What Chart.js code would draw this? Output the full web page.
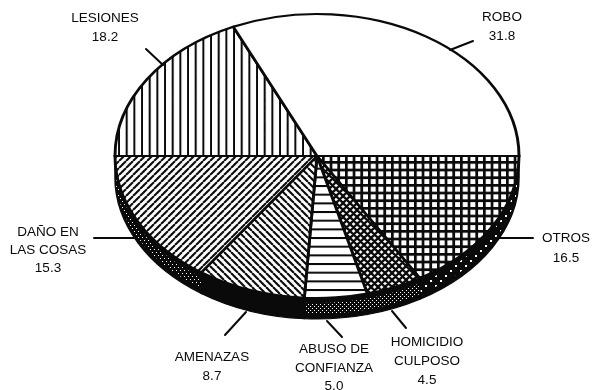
<!DOCTYPE html>
<html>
<head>
<meta charset="utf-8">
<style>html,body{margin:0;padding:0;background:#fff}#w{position:relative;width:593px;height:390px}</style>
<script src="https://cdn.jsdelivr.net/npm/chart.js@4"></script>
</head>
<body>
<div id="w"><canvas id="c" width="593" height="390"></canvas></div>
<script>
const categories = [['OTROS'], ['HOMICIDIO', 'CULPOSO'], ['ABUSO DE', 'CONFIANZA'], ['AMENAZAS'], ['DAÑO EN', 'LAS COSAS'], ['LESIONES'], ['ROBO']];
const values = [16.5, 4.5, 5.0, 8.7, 15.3, 18.2, 31.8];
const valueLabels = ['16.5', '4.5', '5.0', '8.7', '15.3', '18.2', '31.8'];

const INK = '#0a0a0a';
const CX = 317, CY = 156, RX = 202, RY = 142, DEPTH = 21;

function tile(w, h, paint) {
  const t = document.createElement('canvas');
  t.width = w; t.height = h;
  const g = t.getContext('2d');
  g.fillStyle = '#fff'; g.fillRect(0, 0, w, h);
  g.strokeStyle = INK; g.fillStyle = INK;
  paint(g, w, h);
  return g.createPattern(t, 'repeat');
}
function diag(up, w, lw) {
  return tile(w, w, g => {
    g.lineWidth = lw;
    g.beginPath();
    for (const o of [-w, 0, w]) {
      if (up) { g.moveTo(o, w); g.lineTo(o + w, 0); }
      else { g.moveTo(o, 0); g.lineTo(o + w, w); }
    }
    g.stroke();
  });
}
function dots(w, h, size) {
  const t = document.createElement('canvas');
  t.width = w; t.height = h;
  const g = t.getContext('2d');
  g.fillStyle = INK; g.fillRect(0, 0, w, h);
  g.fillStyle = '#fff';
  g.fillRect(0, 0, size, size);
  g.fillRect(w / 2, h / 2, size, size);
  return g.createPattern(t, 'repeat');
}
const topPatterns = [
  tile(23, 23, g => { for (let k = 0; k < 3; k++) { const p = k * 23 / 3; g.fillRect(0, p, 23, 2.7); g.fillRect(p, 0, 2.7, 23); } }),
  tile(7, 7, g => {
    g.lineWidth = 2.3;
    g.beginPath();
    for (const o of [-7, 0, 7]) { g.moveTo(o, 7); g.lineTo(o + 7, 0); g.moveTo(o, 0); g.lineTo(o + 7, 7); }
    g.stroke();
  }),
  tile(26, 26, g => { for (let k = 0; k < 3; k++) g.fillRect(0, k * 26 / 3 + 3, 26, 2); }),
  diag(false, 7, 2.1),
  diag(true, 7, 2.1),
  tile(23, 23, g => { for (let k = 0; k < 3; k++) g.fillRect(k * 23 / 3 + 3, 0, 2, 23); }),
  '#ffffff'
];
const sidePatterns = [
  dots(10, 10, 2),
  dots(4, 4, 1),
  dots(4, 4, 1),
  null,
  dots(4, 6, 1),
  null,
  null
];
const placement = [
  { tx: 566, ty: [238, 258], lead: [533, 238, 497, 238] },
  { tx: 427, ty: [342, 361, 380], lead: [406, 328, 392, 311] },
  { tx: 334, ty: [349, 368, 386], lead: [342, 337, 327, 321] },
  { tx: 212, ty: [357, 376], lead: [225, 335, 246, 312] },
  { tx: 48, ty: [232, 250, 268], lead: [94, 238, 135, 238] },
  { tx: 105, ty: [18, 37], lead: [146, 49, 163, 65] },
  { tx: 502, ty: [17, 36], lead: [473, 41, 450, 50] }
];

const squash = {
  id: 'squash',
  beforeDatasetsDraw(chart) {
    const ctx = chart.ctx;
    const arcs = chart.getDatasetMeta(0).data;
    const a0 = arcs[0];
    const R = a0.outerRadius;
    const sx = RX / R, sy = RY / R;
    ctx.save();
    ctx.translate(CX, CY);
    ctx.scale(sx, sy);
    ctx.translate(-a0.x, -a0.y);
    const inv = ctx.getTransform().inverse();
    topPatterns.concat(sidePatterns).forEach(p => { if (p instanceof CanvasPattern) p.setTransform(inv); });
    const wall = (a, s, e, d0, d1) => {
      ctx.beginPath();
      ctx.arc(a.x, a.y + d0 / sy, R, s, e);
      ctx.arc(a.x, a.y + d1 / sy, R, e, s, true);
      ctx.closePath();
    };
    arcs.forEach((a, i) => {
      const s = Math.max(a.startAngle, 0), e = Math.min(a.endAngle, Math.PI);
      if (e <= s) return;
      wall(a, s, e, 0, DEPTH);
      ctx.fillStyle = INK;
      ctx.fill();
      ctx.lineWidth = 1.5;
      ctx.strokeStyle = INK;
      ctx.stroke();
      if (sidePatterns[i]) {
        wall(a, s, e, 5, DEPTH - 5);
        ctx.fillStyle = sidePatterns[i];
        ctx.fill();
      }
    });
  },
  afterDatasetsDraw(chart) {
    const ctx = chart.ctx;
    ctx.restore();
    ctx.save();
    ctx.strokeStyle = INK;
    ctx.fillStyle = INK;
    ctx.lineWidth = 2;
    ctx.lineCap = 'round';
    ctx.font = '13.5px "Liberation Sans", Arial, sans-serif';
    ctx.textAlign = 'center';
    ctx.textBaseline = 'middle';
    placement.forEach((p, i) => {
      const l = p.lead;
      ctx.beginPath();
      ctx.moveTo(l[0], l[1]);
      ctx.lineTo(l[2], l[3]);
      ctx.stroke();
      const lines = categories[i].concat(valueLabels[i]);
      lines.forEach((t, k) => ctx.fillText(t, p.tx, p.ty[k]));
    });
    ctx.restore();
  }
};

new Chart(document.getElementById('c'), {
  type: 'pie',
  data: {
    labels: categories,
    datasets: [{
      data: values,
      backgroundColor: topPatterns,
      borderColor: INK,
      borderWidth: 2.8,
      borderJoinStyle: 'miter',
      clip: false
    }]
  },
  options: {
    responsive: false,
    animation: false,
    rotation: 90,
    layout: { padding: 0 },
    plugins: { legend: { display: false }, tooltip: { enabled: false } }
  },
  plugins: [squash]
});
</script>
</body>
</html>
